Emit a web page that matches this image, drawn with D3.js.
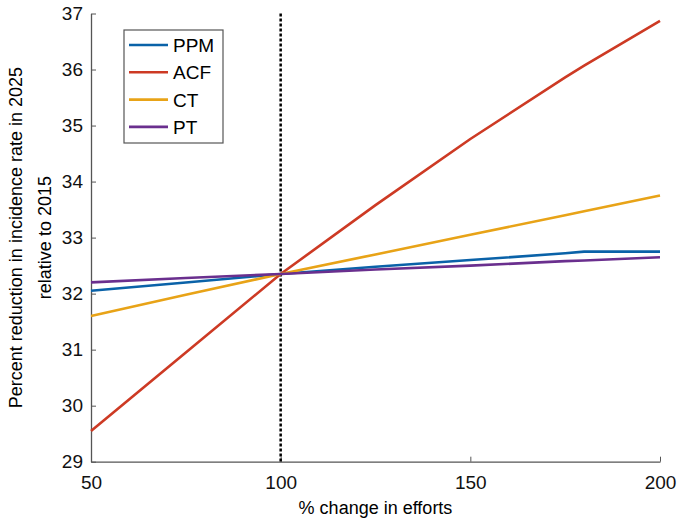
<!DOCTYPE html>
<html>
<head>
<meta charset="utf-8">
<script src="https://cdn.jsdelivr.net/npm/d3@7"></script>
<style>
body { margin: 0; background: #fff; }
text { font-family: "Liberation Sans", Arial, sans-serif; }
</style>
</head>
<body>
<svg width="677" height="525"></svg>
<script>
var efforts = [50, 75, 100, 125, 150, 175, 180, 200];
var ppm = [32.05, 32.2, 32.35, 32.48, 32.6, 32.72, 32.75, 32.75];
var acf = [29.55, 30.95, 32.35, 33.58, 34.76, 35.86, 36.07, 36.87];
var ct  = [31.6, 31.98, 32.35, 32.7, 33.05, 33.4, 33.47, 33.75];
var pt  = [32.2, 32.28, 32.35, 32.43, 32.5, 32.58, 32.59, 32.65];
var seriesNames = ['PPM', 'ACF', 'CT', 'PT'];
var seriesColors = ['#0a62a8', '#cd3a24', '#e8a317', '#6a2f8e'];
var xTicks = [50, 100, 150, 200];
var yTicks = [29, 30, 31, 32, 33, 34, 35, 36, 37];
var refLine = 100;

var svg = d3.select('svg');
var plotLeft = 91, plotRight = 660, plotTop = 13.5, plotBottom = 461.7;

var scaleX = d3.scaleLinear().domain([50, 200]).range([plotLeft, plotRight]);
var scaleY = d3.scaleLinear().domain([29, 37]).range([plotBottom, plotTop]);

var axisColor = '#555';

// axes
var gx = svg.append('g')
    .attr('transform', 'translate(0,' + plotBottom + ')')
    .call(d3.axisBottom(scaleX).tickValues(xTicks).tickSizeInner(-5).tickSizeOuter(0).tickPadding(14));
var gy = svg.append('g')
    .attr('transform', 'translate(' + plotLeft + ',0)')
    .call(d3.axisLeft(scaleY).tickValues(yTicks).tickSizeInner(-5).tickSizeOuter(0).tickPadding(8));

[gx, gy].forEach(function(g) {
    g.select('.domain').attr('stroke', axisColor).attr('stroke-width', 1.3);
    g.selectAll('.tick line').attr('stroke', axisColor).attr('stroke-width', 1);
    g.selectAll('.tick text').attr('font-size', 19).attr('fill', '#111')
        .style('font-family', '"Liberation Sans", Arial, sans-serif');
});

// dotted reference line
svg.append('line')
    .attr('x1', scaleX(refLine)).attr('x2', scaleX(refLine))
    .attr('y1', scaleY(37)).attr('y2', scaleY(29))
    .attr('stroke', '#000')
    .attr('stroke-width', 2.5)
    .attr('stroke-dasharray', '3,2');

var series = [ppm, acf, ct, pt];
var line = d3.line()
    .x(function(d, i){ return scaleX(efforts[i]); })
    .y(function(d){ return scaleY(d); });

series.forEach(function(s, i) {
    svg.append('path')
        .datum(s)
        .attr('d', line)
        .attr('fill', 'none')
        .attr('stroke', seriesColors[i])
        .attr('stroke-width', 2.6)
        .attr('stroke-linejoin', 'round');
});

// legend
var legend = svg.append('g').attr('transform', 'translate(124,30)');
legend.append('rect')
    .attr('width', 99).attr('height', 113)
    .attr('fill', '#fff')
    .attr('stroke', axisColor)
    .attr('stroke-width', 1.2);
seriesNames.forEach(function(name, i) {
    var y = 15 + i * 27.3;
    legend.append('line')
        .attr('x1', 5).attr('x2', 44)
        .attr('y1', y).attr('y2', y)
        .attr('stroke', seriesColors[i])
        .attr('stroke-width', 2.6);
    legend.append('text')
        .attr('x', 49).attr('y', y + 7)
        .attr('font-size', 19)
        .text(name);
});

// axis titles
svg.append('text')
    .attr('x', (plotLeft + plotRight) / 2)
    .attr('y', 514)
    .attr('text-anchor', 'middle')
    .attr('font-size', 18)
    .text('% change in efforts');

var yt = svg.append('text')
    .attr('transform', 'translate(0,' + ((plotTop + plotBottom) / 2) + ') rotate(-90)')
    .attr('text-anchor', 'middle')
    .attr('font-size', 18);
yt.append('tspan').attr('x', 0).attr('y', 22).text('Percent reduction in incidence rate in 2025');
yt.append('tspan').attr('x', 0).attr('y', 51).text('relative to 2015');
</script>
</body>
</html>
